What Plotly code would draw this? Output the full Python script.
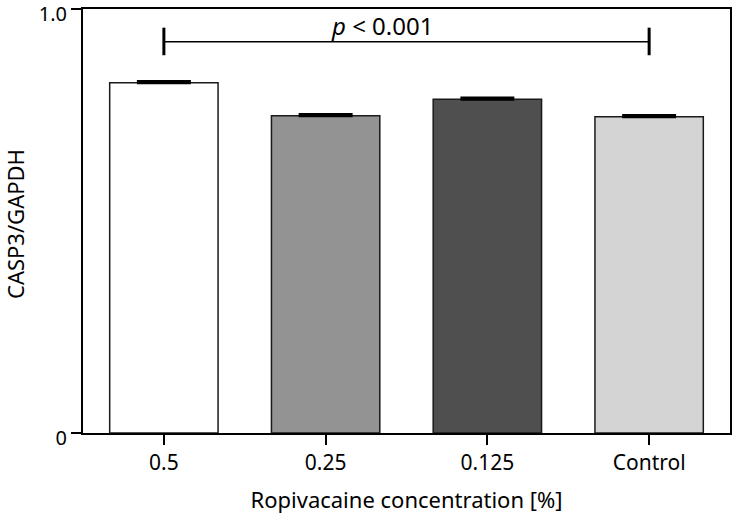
import plotly.graph_objects as go

# 데이터
groups = ['0.5', '0.25', '0.125', 'Control']
casp3_ratio = [0.826, 0.748, 0.787, 0.746]
err = [0.003, 0.003, 0.003, 0.003]
bar_colors = ['#ffffff', '#939393', '#4f4f4f', '#d4d4d4']
p_text = '<i>p</i> &lt; 0.001'
bracket_y = 0.923
cap_lo, cap_hi = 0.891, 0.956

FONT = 'Noto Sans'

fig = go.Figure()

fig.add_trace(go.Bar(
    x=groups,
    y=casp3_ratio,
    width=0.67,
    marker=dict(color=bar_colors, line=dict(color='#1a1a1a', width=1.5)),
    error_y=dict(type='data', array=err, arrayminus=[0] * len(err), symmetric=False,
                 color='black', thickness=3, width=27),
    showlegend=False,
))

# 유의성 브래킷
i0, i1 = 0, len(groups) - 1
fig.add_shape(type='line', xref='x', yref='y', x0=i0, x1=i1, y0=bracket_y, y1=bracket_y,
              line=dict(color='black', width=1.5))
for i in (i0, i1):
    fig.add_shape(type='line', xref='x', yref='y', x0=i, x1=i, y0=cap_lo, y1=cap_hi,
                  line=dict(color='black', width=3))

fig.add_annotation(x=1.35, y=0.962, xref='x', yref='y', text=p_text, showarrow=False,
                   yanchor='middle', font=dict(family=FONT, size=24, color='black'))

# y축 제목 (여백 제약 때문에 주석으로)
fig.add_annotation(x=0, y=0.5, xref='paper', yref='paper', xshift=-68, yshift=-3,
                   text='CASP3/GAPDH', textangle=-90, showarrow=False,
                   xanchor='center', yanchor='middle',
                   font=dict(family=FONT, size=22, color='black'))

fig.update_layout(
    width=732, height=514,
    margin=dict(l=83, r=2, t=9, b=81),
    plot_bgcolor='white', paper_bgcolor='white',
    font=dict(family=FONT, size=21, color='black'),
    xaxis=dict(
        range=[-0.5, 3.5], automargin=False,
        showline=True, linecolor='black', linewidth=2, mirror=True,
        ticks='outside', ticklen=10, tickwidth=1.5, tickcolor='black',
        showgrid=False,
        title=dict(text='Ropivacaine concentration [%]', font=dict(size=22), standoff=17),
    ),
    yaxis=dict(
        range=[0, 1], automargin=False, ticklabeloverflow='allow', ticklabelshift=5,
        tickvals=[0, 1], ticktext=['0', '1.0'], tickfont=dict(size=20),
        showline=True, linecolor='black', linewidth=2, mirror=True,
        ticks='outside', ticklen=10, tickwidth=1.5, tickcolor='black',
        showgrid=False, zeroline=False,
    ),
)

# 페이지 기본 여백 제거
fig.write_html('out.html', config={'displayModeBar': False},
               post_script="document.body.style.margin='0';")
